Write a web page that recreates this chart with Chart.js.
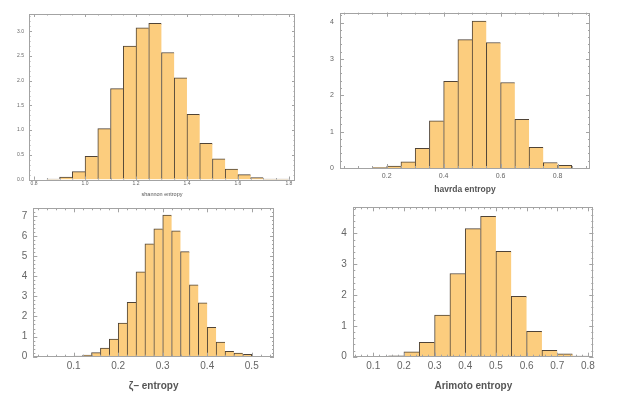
<!DOCTYPE html>
<html>
<head>
<meta charset="utf-8">
<title>entropy histograms</title>
<script src="https://cdn.jsdelivr.net/npm/chart.js@4.4.0/dist/chart.umd.min.js"></script>
<style>
  body { margin: 0; background: #fff; }
  #wrap { position: relative; width: 620px; height: 399px; overflow: hidden; }
  #wrap canvas { position: absolute; left: 0; top: 0; }
</style>
</head>
<body>
<div id="wrap">
  <canvas id="shannon" width="620" height="399"></canvas>
  <canvas id="havrda" width="620" height="399"></canvas>
  <canvas id="zeta" width="620" height="399"></canvas>
  <canvas id="arimoto" width="620" height="399"></canvas>
</div>
<script>
'use strict';

// ======= data (lower bin edges + density heights) =======

var shannonBins = [0.85, 0.9, 0.95, 1.0, 1.05, 1.1, 1.15, 1.2, 1.25, 1.3, 1.35, 1.4, 1.45, 1.5, 1.55, 1.6, 1.65, 1.7, 1.75];
var shannonDensity = [0.01, 0.05, 0.16, 0.47, 1.03, 1.84, 2.70, 3.07, 3.16, 2.57, 2.06, 1.32, 0.73, 0.42, 0.21, 0.10, 0.04, 0.01, 0.01];
var shannonXTicks = [0.8, 1.0, 1.2, 1.4, 1.6, 1.8];
var shannonYTicks = [0, 0.5, 1.0, 1.5, 2.0, 2.5, 3.0];

var havrdaBins = [0.15, 0.2, 0.25, 0.3, 0.35, 0.4, 0.45, 0.5, 0.55, 0.6, 0.65, 0.7, 0.75, 0.8];
var havrdaDensity = [0.01, 0.05, 0.17, 0.54, 1.30, 2.38, 3.53, 4.04, 3.45, 2.35, 1.34, 0.57, 0.15, 0.07];
var havrdaXTicks = [0.2, 0.4, 0.6, 0.8];
var havrdaYTicks = [0, 1, 2, 3, 4];

var zetaBins = [0.08, 0.1, 0.12, 0.14, 0.16, 0.18, 0.2, 0.22, 0.24, 0.26, 0.28, 0.3, 0.32, 0.34, 0.36, 0.38, 0.4, 0.42, 0.44, 0.46, 0.48];
var zetaDensity = [0.02, 0.03, 0.08, 0.2, 0.43, 0.87, 1.67, 2.70, 4.22, 5.60, 6.35, 7.03, 6.25, 5.22, 3.57, 2.67, 1.46, 0.73, 0.27, 0.18, 0.12];
var zetaXTicks = [0.1, 0.2, 0.3, 0.4, 0.5];
var zetaYTicks = [0, 1, 2, 3, 4, 5, 6, 7];

var arimotoBins = [0.15, 0.2, 0.25, 0.3, 0.35, 0.4, 0.45, 0.5, 0.55, 0.6, 0.65, 0.7, 0.75];
var arimotoDensity = [0.03, 0.16, 0.47, 1.35, 2.70, 4.16, 4.56, 3.42, 1.96, 0.82, 0.21, 0.09, 0.02];
var arimotoXTicks = [0.1, 0.2, 0.3, 0.4, 0.5, 0.6, 0.7, 0.8];
var arimotoYTicks = [0, 1, 2, 3, 4];

// ======= styling =======

var FONT = '"Liberation Sans", Arial, sans-serif';
var barFill = '#fccd7e';
var barEdge = '#4f4336';
var frameColor = '#a3a3a3';
var labelColor = '#666666';
var titleColor = '#555555';

// frame around plot with inward major/minor ticks on all four sides
var frameTicks = {
  id: 'frameTicks',
  afterDraw: function (chart, args, opts) {
    var ctx = chart.ctx;
    var a = chart.chartArea;
    var xs = chart.scales.x;
    var ys = chart.scales.y;
    ctx.save();
    ctx.strokeStyle = frameColor;
    ctx.lineWidth = 1;
    ctx.beginPath();

    function markX(v, len) {
      var px = Math.round(xs.getPixelForValue(v)) + 0.5;
      ctx.moveTo(px, a.bottom); ctx.lineTo(px, a.bottom - len);
      ctx.moveTo(px, a.top); ctx.lineTo(px, a.top + len);
    }
    function markY(v, len) {
      var py = Math.round(ys.getPixelForValue(v)) + 0.5;
      ctx.moveTo(a.left, py); ctx.lineTo(a.left + len, py);
      ctx.moveTo(a.right, py); ctx.lineTo(a.right - len, py);
    }

    var i;
    for (i = Math.ceil(xs.min / opts.xMinor - 1e-6); i * opts.xMinor <= xs.max; i++) {
      markX(i * opts.xMinor, opts.minor);
    }
    for (i = Math.ceil(ys.min / opts.yMinor - 1e-6); i * opts.yMinor <= ys.max; i++) {
      markY(i * opts.yMinor, opts.minor);
    }
    xs.ticks.forEach(function (t) { markX(t.value, opts.major); });
    ys.ticks.forEach(function (t) { markY(t.value, opts.major); });
    ctx.stroke();

    ctx.strokeRect(Math.round(a.left) + 0.5, Math.round(a.top) + 0.5,
      Math.round(a.right - a.left) - 1, Math.round(a.bottom - a.top));
    ctx.restore();
  }
};

function makeHistogram(id, cfg) {
  var width = cfg.bins[1] - cfg.bins[0];
  var points = cfg.bins.map(function (b, i) {
    return { x: b + width / 2, y: cfg.density[i] };
  });

  return new Chart(document.getElementById(id), {
    type: 'bar',
    data: {
      datasets: [{
        data: points,
        backgroundColor: barFill,
        borderColor: barEdge,
        borderSkipped: 'start',
        borderWidth: function (c) {
          var last = c.dataIndex === points.length - 1;
          return { left: 1, top: 1, right: last ? 1 : 0, bottom: 0 };
        },
        barPercentage: 1,
        categoryPercentage: 1
      }]
    },
    options: {
      responsive: false,
      animation: false,
      layout: { padding: cfg.padding },
      plugins: {
        legend: { display: false },
        tooltip: { enabled: false },
        frameTicks: cfg.marks
      },
      scales: {
        x: {
          type: 'linear',
          offset: false,
          min: cfg.xRange[0],
          max: cfg.xRange[1],
          grid: { display: false, drawTicks: false },
          border: { display: false },
          afterBuildTicks: function (s) {
            s.ticks = cfg.xTicks.map(function (v) { return { value: v }; });
          },
          afterFit: function (s) { s.height = cfg.xAxisHeight; },
          ticks: {
            autoSkip: false,
            maxRotation: 0,
            padding: cfg.xTickPad,
            color: labelColor,
            font: { family: FONT, size: cfg.tickSize },
            callback: function (v) { return Number(v).toFixed(cfg.xDec); }
          },
          title: {
            display: true,
            text: cfg.title,
            color: titleColor,
            padding: 0,
            font: { family: FONT, size: cfg.titleSize, weight: cfg.titleWeight }
          }
        },
        y: {
          min: 0,
          max: cfg.yMax,
          grid: { display: false, drawTicks: false },
          border: { display: false },
          afterBuildTicks: function (s) {
            s.ticks = cfg.yTicks.map(function (v) { return { value: v }; });
          },
          afterFit: function (s) { s.width = cfg.yAxisWidth; },
          ticks: {
            autoSkip: false,
            padding: cfg.yTickPad,
            color: labelColor,
            font: { family: FONT, size: cfg.tickSize },
            callback: function (v) { return Number(v).toFixed(cfg.yDec); }
          }
        }
      }
    },
    plugins: [frameTicks]
  });
}

// ======= charts =======

makeHistogram('shannon', {
  bins: shannonBins, density: shannonDensity,
  xTicks: shannonXTicks, yTicks: shannonYTicks,
  xRange: [0.78, 1.824], yMax: 3.35, xDec: 1, yDec: 1,
  title: 'shannon entropy', titleSize: 5.5, titleWeight: 'normal', tickSize: 5,
  xAxisHeight: 17.8, yAxisWidth: 15, xTickPad: 1, yTickPad: 5,
  padding: { left: 14, top: 14, right: 325, bottom: 201.7 },
  marks: { xMinor: 0.05, yMinor: 0.1, major: 3, minor: 1.5 }
});

makeHistogram('havrda', {
  bins: havrdaBins, density: havrdaDensity,
  xTicks: havrdaXTicks, yTicks: havrdaYTicks,
  xRange: [0.036, 0.914], yMax: 4.27, xDec: 1, yDec: 0,
  title: 'havrda entropy', titleSize: 8.5, titleWeight: 'bold', tickSize: 7,
  xAxisHeight: 27.1, yAxisWidth: 20, xTickPad: 4, yTickPad: 6,
  padding: { left: 320, top: 12.7, right: 30, bottom: 203.9 },
  marks: { xMinor: 0.05, yMinor: 0.2, major: 4, minor: 2 }
});

makeHistogram('zeta', {
  bins: zetaBins, density: zetaDensity,
  xTicks: zetaXTicks, yTicks: zetaYTicks,
  xRange: [0.0092, 0.55], yMax: 7.37, xDec: 1, yDec: 0,
  title: '\u03b6\u2013 entropy', titleSize: 10, titleWeight: 'bold', tickSize: 10,
  xAxisHeight: 36, yAxisWidth: 20, xTickPad: 4, yTickPad: 6,
  padding: { left: 13.3, top: 208.3, right: 346, bottom: 6.3 },
  marks: { xMinor: 0.02, yMinor: 0.2, major: 4, minor: 2 }
});

makeHistogram('arimoto', {
  bins: arimotoBins, density: arimotoDensity,
  xTicks: arimotoXTicks, yTicks: arimotoYTicks,
  xRange: [0.035, 0.8175], yMax: 4.85, xDec: 1, yDec: 0,
  title: 'Arimoto entropy', titleSize: 10, titleWeight: 'bold', tickSize: 10,
  xAxisHeight: 35.3, yAxisWidth: 22, xTickPad: 4, yTickPad: 6.6,
  padding: { left: 331.3, top: 207.3, right: 26.7, bottom: 7 },
  marks: { xMinor: 0.02, yMinor: 0.2, major: 4, minor: 2 }
});
</script>
</body>
</html>
